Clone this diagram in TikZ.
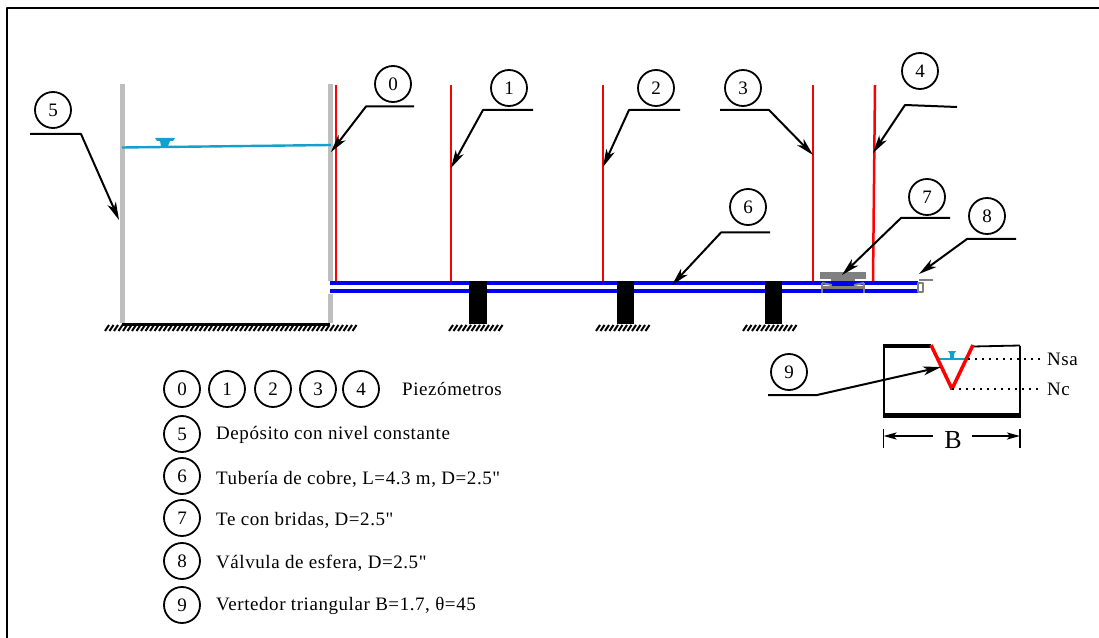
\documentclass[tikz,border=0pt]{standalone}
\usepackage{fontspec}
\setmainfont[LetterSpace=3,Ligatures=TeXOff]{Liberation Serif}
\usepackage{tikz}
\usetikzlibrary{arrows.meta}
\definecolor{wallgray}{RGB}{190,190,190}
\definecolor{flangegray}{RGB}{128,128,128}
\definecolor{waterblue}{RGB}{20,160,205}
\definecolor{pipeblue}{RGB}{0,0,240}
\begin{document}
\begin{tikzpicture}[x=1bp,y=-1bp,line join=bevel,
  tag/.style={draw,circle,line width=1.8bp,minimum size=36bp,inner sep=0pt,font=\fontsize{19bp}{19bp}\selectfont},
  legendtext/.style={anchor=west,inner sep=0pt,font=\fontsize{19bp}{19bp}\selectfont},
  leader/.style={line width=2bp,-{Stealth[length=18bp,width=9bp,inset=5bp]}},
  wall/.style={wallgray,line width=5bp},
  piezo/.style={red,line width=2.5bp},
  water/.style={waterblue,line width=2.4bp},
  hatchline/.style={line width=2bp},
  levelline/.style={line width=1.8bp,dash pattern=on 2bp off 5bp on 2bp off 5bp},
  flange/.style={flangegray,line width=2bp}]
\useasboundingbox (0,0) rectangle (1099,638);
\draw [line width=2.2bp] (7,638) -- (7,8) -- (1099,8);
%% tank and piezometers
\draw [wall] (122,84) -- (122,323);
\draw [wall] (330,84) -- (330,281);
\draw [wall] (330,294) -- (330,323);
\draw [line width=3bp] (122,324) -- (330,324);
\foreach \xh in {105,109.5,...,353} \draw [hatchline] (\xh,331) -- (\xh+4,325);
\foreach \xh in {449,453.5,...,501} \draw [hatchline] (\xh,331) -- (\xh+4,325);
\foreach \xh in {596,600.5,...,648} \draw [hatchline] (\xh,331) -- (\xh+4,325);
\foreach \xh in {743,747.5,...,795} \draw [hatchline] (\xh,331) -- (\xh+4,325);
\draw [water] (122,147.5) -- (331,145);
\fill [waterblue] (155,138) -- (175,138) -- (173,141) -- (170,141) -- (168,146) -- (161,146) -- (160,141) -- (157,141) -- cycle;
\draw [piezo] (336,85) -- (336,281);
\draw [piezo] (451,85) -- (451,281);
\draw [piezo] (603,85) -- (603,281);
\draw [piezo] (813,85) -- (813,281);
\draw [piezo] (875,85) -- (873,281);
%% pipe and supports
\fill [black] (469,281) rectangle (487,324);
\fill [black] (617,281) rectangle (634,324);
\fill [black] (765,281) rectangle (782,324);
\draw [pipeblue,line width=4bp] (330,283) -- (469,283) (487,283) -- (617,283) (634,283) -- (765,283) (782,283) -- (918,283);
\draw [pipeblue,line width=4bp] (330,291) -- (469,291) (487,291) -- (617,291) (634,291) -- (765,291) (782,291) -- (918,291);
%% tee and valve
\fill [pipeblue] (832,284) rectangle (855,289);
\fill [flangegray] (820,272) rectangle (866,279);
\fill [flangegray] (831,279) rectangle (855,281);
\draw [flange] (822,283) -- (822,293) (864,283) -- (864,293);
\draw [flange] (822,283) -- (832,285) (864,283) -- (854,285);
\draw [flange,line width=2.5bp] (822,287.5) -- (864,287.5);
\draw [flange] (918,283) rectangle (923,292);
\draw [flange] (919,280) -- (933,280);
%% weir
\draw [line width=2bp] (883.5,346) -- (883.5,415) (1020,345.5) -- (1020,415);
\draw [line width=3.5bp] (883,346) -- (931,346);
\draw [line width=1.8bp] (973,346.5) -- (1020,345.5);
\draw [line width=4.5bp] (883,415.5) -- (1021,415.5);
\draw [water] (937,359) -- (968,359);
\fill [waterblue] (948,351) -- (956,351) -- (954,354) -- (954,358) -- (950,358) -- (950,354) -- cycle;
\draw [red,line width=3.5bp] (931,345) -- (952,389) -- (973,345);
\node (Nsa) at (1047,359) [legendtext] {Nsa};
\node (Nc) at (1047,389) [legendtext] {Nc};
\draw [levelline] (968,359) -- (1040,359);
\draw [levelline] (952,389) -- (1040,389);
\node (B) at (953,440) [font=\fontsize{26bp}{26bp}\selectfont,inner sep=0pt] {B};
\coordinate (bleft) at (883.5,436);
\coordinate (bright) at (1020,436);
\draw [line width=1.8bp] (883.5,429) -- (883.5,448) (1020,429) -- (1020,448);
\draw [leader,-{Stealth[length=13bp,width=7bp,inset=3bp]}] (933,436) -- (bleft);
\draw [leader,-{Stealth[length=13bp,width=7bp,inset=3bp]}] (972,436) -- (bright);
%% numbered tags and leaders
\node (t5) at (53,110) [tag] {5};
\node (t0) at (393,84) [tag] {0};
\node (t1) at (509,88) [tag] {1};
\node (t2) at (656,88) [tag] {2};
\node (t3) at (743,88) [tag] {3};
\node (t4) at (920,71) [tag] {4};
\node (t6) at (748,207) [tag] {6};
\node (t7) at (927,197) [tag] {7};
\node (t8) at (987,216) [tag] {8};
\node (t9) at (789,372) [tag] {9};
\coordinate (p5) at (119,220);
\coordinate (p0) at (331,152);
\coordinate (p1) at (451,168);
\coordinate (p2) at (603,167);
\coordinate (p3) at (813,155);
\coordinate (p4) at (873,153);
\coordinate (p6) at (672,285);
\coordinate (p7) at (842,275);
\coordinate (p8) at (919,274);
\coordinate (p9) at (941,367);
\draw [leader] (30,134) -- (81,134) -- (p5);
\draw [leader] (414,106.5) -- (366,106.5) -- (p0);
\draw [leader] (533,110) -- (483,110) -- (p1);
\draw [leader] (680,110) -- (629,110) -- (p2);
\draw [leader] (720,110) -- (769,110) -- (p3);
\draw [leader] (957,107) -- (905,105) -- (p4);
\draw [leader] (770,232.5) -- (721,232.5) -- (p6);
\draw [leader] (950,218) -- (901,218) -- (p7);
\draw [leader] (1016,239) -- (967,239) -- (p8);
\draw [leader] (768,395) -- (817,395) -- (p9);
%% legend
\node (l0) at (182,389) [tag] {0};
\node (l1) at (227,389) [tag] {1};
\node (l2) at (273,389) [tag] {2};
\node (l3) at (318,389) [tag] {3};
\node (l4) at (361,389) [tag] {4};
\node (l5) at (182,434) [tag] {5};
\node (l6) at (182,476) [tag] {6};
\node (l7) at (182,518) [tag] {7};
\node (l8) at (182,561) [tag] {8};
\node (l9) at (182,605) [tag] {9};
\node (piezometros) at (402,389) [legendtext] {Piezómetros};
\node (deposito) at (216,435) [legendtext] {Depósito con nivel constante};
\node (tuberia) at (216,479) [legendtext] {Tubería de cobre, L=4.3 m, D=2.5"};
\node (bridas) at (216,520) [legendtext] {Te con bridas, D=2.5"};
\node (valvula) at (216,563) [legendtext] {Válvula de esfera, D=2.5"};
\node (vertedor) at (216,606) [legendtext] {Vertedor triangular B=1.7, θ=45};
%
\end{tikzpicture}
\end{document}
